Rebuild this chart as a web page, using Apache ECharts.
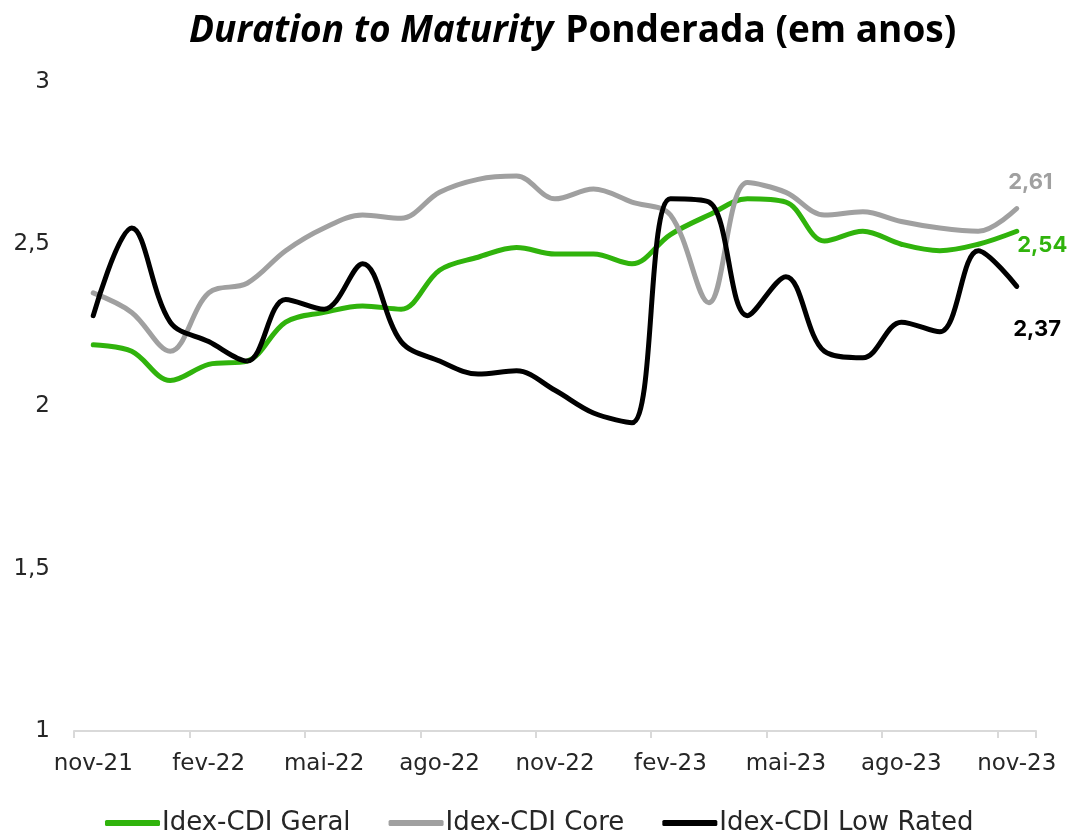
<!DOCTYPE html>
<html>
<head>
<meta charset="utf-8">
<script src="https://cdn.jsdelivr.net/npm/echarts@6/dist/echarts.min.js"></script>
<style>
    html, body { margin: 0; padding: 0; background: #fff; }
    #chart { width: 1069px; height: 831px; }
</style>
</head>
<body>
<div id="chart"></div>
<script>
// meses (nov-21 .. nov-23)
var months = ['nov-21', 'dez-21', 'jan-22', 'fev-22', 'mar-22', 'abr-22', 'mai-22', 'jun-22', 'jul-22',
    'ago-22', 'set-22', 'out-22', 'nov-22', 'dez-22', 'jan-23', 'fev-23', 'mar-23', 'abr-23',
    'mai-23', 'jun-23', 'jul-23', 'ago-23', 'set-23', 'out-23', 'nov-23'];

var geral = [2.19, 2.17, 2.08, 2.13, 2.14, 2.26, 2.29, 2.31, 2.30, 2.42, 2.46, 2.49, 2.47,
    2.47, 2.44, 2.53, 2.59, 2.64, 2.63, 2.51, 2.54, 2.50, 2.48, 2.50, 2.54];
var core = [2.35, 2.29, 2.17, 2.35, 2.38, 2.48, 2.55, 2.59, 2.58, 2.66, 2.70, 2.71, 2.64,
    2.67, 2.63, 2.59, 2.32, 2.69, 2.66, 2.59, 2.60, 2.57, 2.55, 2.54, 2.61];
var lowRated = [2.28, 2.55, 2.26, 2.20, 2.14, 2.33, 2.30, 2.44, 2.20, 2.14, 2.10, 2.11, 2.05,
    1.98, 1.95, 2.64, 2.63, 2.28, 2.40, 2.17, 2.15, 2.26, 2.23, 2.48, 2.37];

var seriesNames = ['Idex-CDI Geral', 'Idex-CDI Core', 'Idex-CDI Low Rated'];
var seriesColors = ['#30b30c', '#a0a0a0', '#000000'];

var textFont = '"DejaVu Sans", sans-serif';
var labelFont = 'Inter, Roboto, sans-serif';
var titleFont = '"Open Sans", sans-serif';

function fmt(v) {
    return v.toFixed(2).replace('.', ',');
}

// label so no ultimo ponto
function lastLabel(offset, color) {
    return {
        show: true,
        position: 'right',
        distance: 0,
        offset: offset,
        color: color,
        fontFamily: labelFont,
        fontWeight: 'bold',
        fontSize: 22,
        formatter: function (p) {
            return p.dataIndex === months.length - 1 ? fmt(p.value) : '';
        }
    };
}

function makeSeries(name, data, color, offset) {
    return {
        name: name,
        type: 'line',
        data: data,
        smooth: 0.35,
        symbol: 'circle',
        symbolSize: 1,
        showSymbol: true,
        itemStyle: { color: color },
        lineStyle: { color: color, width: 5, cap: 'round', join: 'round' },
        label: lastLabel(offset, color),
        emphasis: { disabled: true }
    };
}

var myChart = echarts.init(document.getElementById('chart'));
var option = {
    animation: false,
    title: {
        text: '{i|Duration to Maturity}{b|Ponderada (em anos)}',
        left: 184,
        top: 8,
        textStyle: {
            rich: {
                i: { fontFamily: titleFont, fontSize: 37, fontWeight: 'bold', fontStyle: 'italic', color: '#000', padding: [0, 12, 0, 0] },
                b: { fontFamily: titleFont, fontSize: 37, fontWeight: 'bold', color: '#000' }
            }
        }
    },
    grid: { left: 74, right: 33, top: 82, bottom: 100 },
    legend: {
        top: 805,
        left: 100,
        itemWidth: 55,
        itemHeight: 6,
        itemGap: 38,
        icon: 'roundRect',
        textStyle: { fontFamily: textFont, fontSize: 26, color: '#262626', padding: [0, 0, 0, -3] },
        data: seriesNames
    },
    xAxis: {
        type: 'category',
        data: months,
        boundaryGap: true,
        axisLine: { lineStyle: { color: '#d9d9d9', width: 2 } },
        axisTick: { show: true, interval: 2, length: 7, lineStyle: { color: '#d9d9d9', width: 2 } },
        axisLabel: { interval: 2, margin: 22, color: '#262626', fontFamily: textFont, fontSize: 23 }
    },
    yAxis: {
        type: 'value',
        min: 1,
        max: 3,
        interval: 0.5,
        splitLine: { show: false },
        axisLine: { show: false },
        axisTick: { show: false },
        axisLabel: {
            margin: 24,
            color: '#262626',
            fontFamily: textFont,
            fontSize: 23,
            formatter: function (v) { return String(v).replace('.', ','); }
        }
    },
    series: [
        makeSeries(seriesNames[0], geral, seriesColors[0], [0, 14]),
        makeSeries(seriesNames[1], core, seriesColors[1], [-9, -26]),
        makeSeries(seriesNames[2], lowRated, seriesColors[2], [-4, 43])
    ]
};
myChart.setOption(option);
</script>
</body>
</html>
